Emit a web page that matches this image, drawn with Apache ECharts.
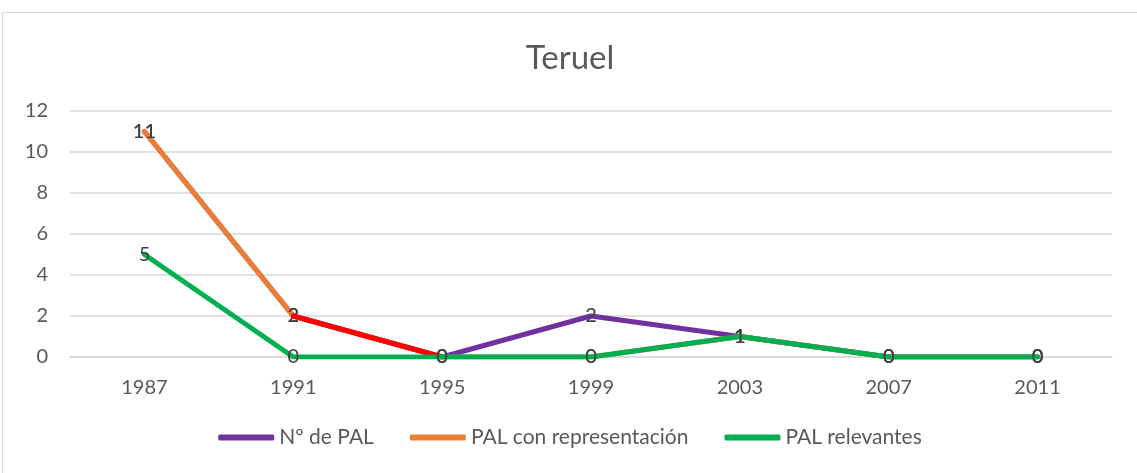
<!DOCTYPE html>
<html>
<head>
<meta charset="utf-8">
<script src="https://cdn.jsdelivr.net/npm/echarts@6/dist/echarts.min.js"></script>
<style>
    html, body { margin: 0; padding: 0; background: #fff; }
    #main { position: absolute; left: 2px; top: 12px; width: 1134px; height: 460px; border: 1px solid #d9d9d9; }
</style>
</head>
<body>
<div id="main"></div>
<script>
var years = ['1987', '1991', '1995', '1999', '2003', '2007', '2011'];
var numPal = [11, 2, 0, 2, 1, 0, 0];
var palRepresentacion = [11, 2, 0, 0, 1, 0, 0];
var palRelevantes = [5, 0, 0, 0, 1, 0, 0];
// tramo marcado en rojo en el original (1991-1995)
var tramoRojo = [null, 2, 0, null, null, null, null];

var font = 'Lato, "Open Sans", sans-serif';

var chart = echarts.init(document.getElementById('main'));

function serie(name, data, color, z, showLabel) {
    return {
        name: name,
        type: 'line',
        data: data,
        z: z,
        symbol: 'circle',
        symbolSize: 0.01,
        showSymbol: true,
        itemStyle: { color: color },
        lineStyle: { width: 5, color: color, cap: 'round' },
        label: {
            show: showLabel,
            position: 'inside',
            color: '#404040',
            fontSize: 20,
            fontFamily: font
        },
        emphasis: { disabled: true },
        animation: false
    };
}

var option = {
    title: {
        text: 'Teruel',
        left: 'center',
        top: 24,
        textStyle: { fontSize: 33, fontWeight: 'normal', color: '#595959', fontFamily: font }
    },
    legend: {
        data: ['Nº de PAL', 'PAL con representación', 'PAL relevantes'],
        bottom: 20,
        left: 'center',
        itemWidth: 56,
        itemHeight: 6,
        itemGap: 36,
        icon: 'roundRect',
        textStyle: { fontSize: 21, color: '#595959', fontFamily: font }
    },
    grid: { left: 67, right: 25, top: 98, bottom: 116 },
    xAxis: {
        type: 'category',
        data: years,
        boundaryGap: true,
        axisLine: { lineStyle: { color: '#d9d9d9', width: 1.5 } },
        axisTick: { show: false },
        axisLabel: { color: '#595959', fontSize: 20, margin: 21, fontFamily: font }
    },
    yAxis: {
        type: 'value',
        min: 0,
        max: 12,
        interval: 2,
        axisLine: { show: false },
        axisTick: { show: false },
        splitLine: { lineStyle: { color: '#d9d9d9', width: 1.5 } },
        axisLabel: { color: '#595959', fontSize: 20, margin: 22, fontFamily: font }
    },
    series: [
        serie('Nº de PAL', numPal, '#7030A0', 2, true),
        serie('PAL con representación', palRepresentacion, '#ED7D31', 3, true),
        serie('tramo', tramoRojo, '#FF0000', 4, false),
        serie('PAL relevantes', palRelevantes, '#00B050', 5, true)
    ]
};

chart.setOption(option);
</script>
</body>
</html>
